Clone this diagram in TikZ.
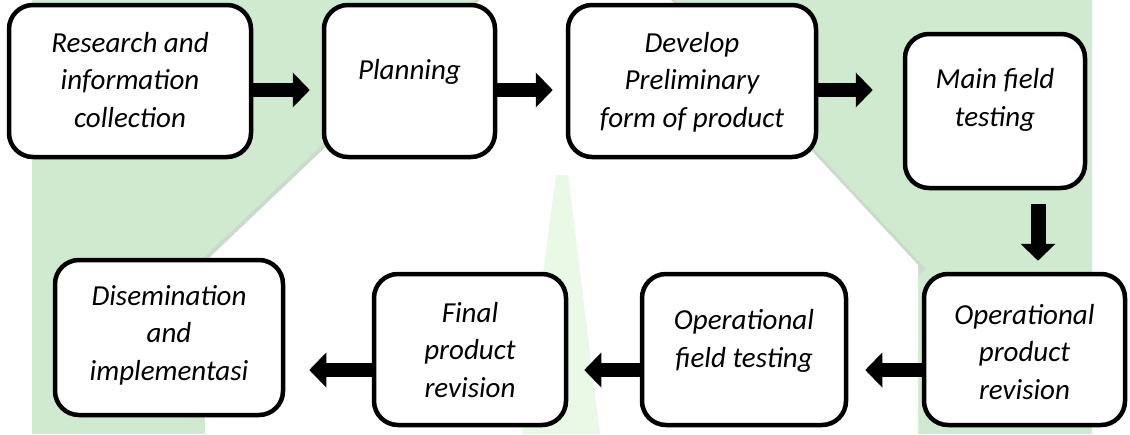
\documentclass[tikz,border=0pt]{standalone}
\usepackage{fontspec}
\setmainfont{Carlito}
\usetikzlibrary{arrows.meta}
\definecolor{wmgreen}{RGB}{208,234,208}
\definecolor{wmgreenlt}{RGB}{234,248,230}
\definecolor{wmgray}{RGB}{200,204,200}
\tikzset{
  stepbox/.style={draw=black, line width=4.5pt, rounded corners=24pt, fill=white, inner sep=0pt},
  steptext/.style={font=\fontsize{29}{37.5}\selectfont\itshape, align=center, inner sep=0pt},
  blk/.style={line width=14pt, -{Triangle[width=34pt,length=17pt]}},
}
\begin{document}
\begin{tikzpicture}[x=1pt,y=-1pt]
\useasboundingbox (0,0) rectangle (1130,434);
% watermark background
\fill[white] (0,0) rectangle (1130,434);
\fill[wmgreen] (32,0) rectangle (1092,434);
\draw[wmgray, line width=10pt, opacity=0.5] (200,268) -- (482,0);
\draw[wmgray, line width=10pt, opacity=0.5] (668,0) -- (922,272);
\fill[white] (205,434) -- (205,262) -- (480,0) -- (671,0) -- (918,265) -- (918,434) -- cycle;
\fill[wmgreenlt] (556,175) -- (568,175) -- (600,434) -- (522,434) -- cycle;
% boxes
\node[stepbox, minimum width=242pt, minimum height=152pt] (A) at (130,81) {};
\node[stepbox, minimum width=171pt, minimum height=152pt] (B) at (409.5,81) {};
\node[stepbox, minimum width=248pt, minimum height=152pt] (C) at (692,81) {};
\node[stepbox, minimum width=180pt, minimum height=154pt] (D) at (995,111) {};
\node[stepbox, minimum width=201pt, minimum height=151pt] (E) at (1024.5,349.5) {};
\node[stepbox, minimum width=204pt, minimum height=151pt] (F) at (744,349.5) {};
\node[stepbox, minimum width=192pt, minimum height=151pt] (G) at (470,349.5) {};
\node[stepbox, minimum width=228pt, minimum height=155pt] (H) at (169,337.5) {};
% texts
\node[steptext] (tA) at (130,80) {Research and\\information\\collection};
\node[steptext] (tB) at (409.5,72) {Planning};
\node[steptext] (tC) at (692,82) {Develop\\Preliminary\\form of product};
\node[steptext] (tD) at (995,100) {Main field\\testing};
\node[steptext] (tE) at (1024.5,352) {Operational\\product\\revision};
\node[steptext] (tF) at (744,341) {Operational\\field testing};
\node[steptext] (tG) at (470,350) {Final\\product\\revision};
\node[steptext] (tH) at (169,335) {Disemination\\and\\implementasi};
% arrows
\coordinate (r1) at (0,90);
\coordinate (r2) at (0,370);
\coordinate (vc) at (1038,0);
\draw[blk, shorten >=12pt] (A.east |- r1) -- (B.west |- r1);
\draw[blk, shorten >=13pt] (B.east |- r1) -- (C.west |- r1);
\draw[blk, shorten >=30pt] (C.east |- r1) -- (D.west |- r1);
\draw[blk, line width=15pt, shorten <=14pt, shorten >=11pt] (D.south -| vc) -- (E.north -| vc);
\draw[blk, shorten >=17pt] (E.west |- r2) -- (F.east |- r2);
\draw[blk, shorten >=16pt] (F.west |- r2) -- (G.east |- r2);
\draw[blk, shorten >=24pt] (G.west |- r2) -- (H.east |- r2);
\end{tikzpicture}
\end{document}
